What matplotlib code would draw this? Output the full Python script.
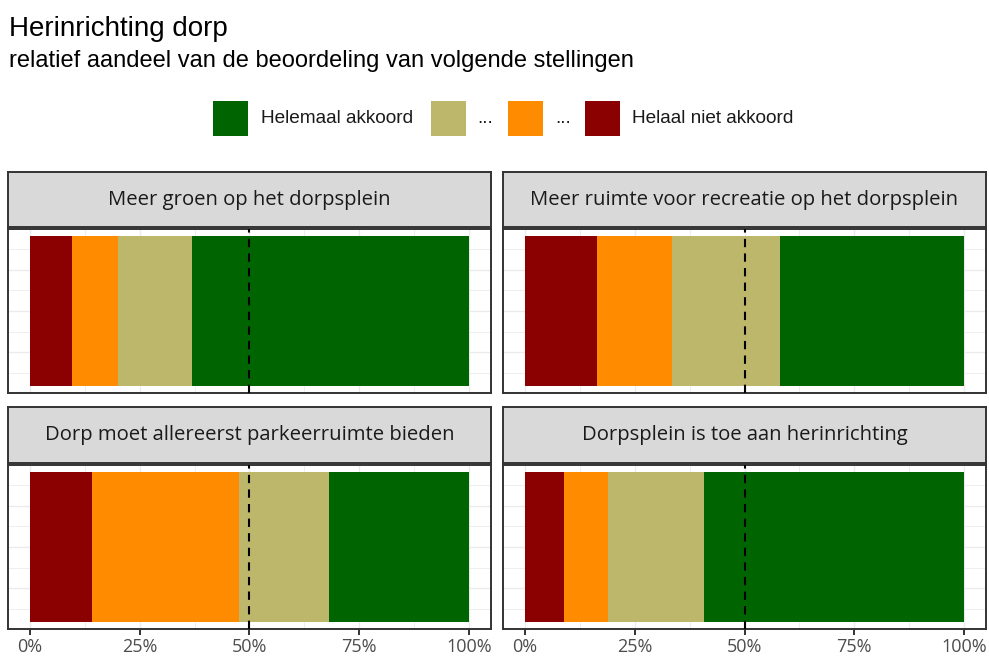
import matplotlib
matplotlib.use("Agg")
import matplotlib.pyplot as plt
from matplotlib.patches import Rectangle
import numpy as np

# ---- data ----
statements = ["Meer groen op het dorpsplein",
              "Meer ruimte voor recreatie op het dorpsplein",
              "Dorp moet allereerst parkeerruimte bieden",
              "Dorpsplein is toe aan herinrichting"]
levels = ["Helaal niet akkoord", "...", "... ", "Helemaal akkoord"]
level_colors = ["#8B0000", "#FF8C00", "#BDB76B", "#006400"]
# shares (%) per statement, in order of levels
niet_akkoord = [9.5, 16.4, 14.2, 8.8]
oranje = [10.6, 17.1, 33.4, 10.0]
kaki = [16.9, 24.6, 20.6, 22.0]
akkoord = [63.0, 41.9, 31.8, 59.2]
xticks = [0, 25, 50, 75, 100]
xticklabels = ["0%", "25%", "50%", "75%", "100%"]

title = "Herinrichting dorp"
subtitle = "relatief aandeel van de beoordeling van volgende stellingen"
legend_labels = ["Helemaal akkoord", "...", "...", "Helaal niet akkoord"]
legend_colors = ["#006400", "#BDB76B", "#FF8C00", "#8B0000"]

W, H = 989, 657
fig = plt.figure(figsize=(W / 100, H / 100), dpi=100)
fig.patch.set_facecolor("white")


def ax_px(x0, y0, x1, y1, **kw):
    return fig.add_axes([x0 / W, 1 - y1 / H, (x1 - x0) / W, (y1 - y0) / H], **kw)


border_col = "#333333"
series = [niet_akkoord, oranje, kaki, akkoord]

panels = [
    ((8, 229, 491, 393), (8, 172, 491, 227), False),
    ((503, 229, 986, 393), (503, 172, 986, 227), False),
    ((8, 465, 491, 629), (8, 407, 491, 463), True),
    ((503, 465, 986, 629), (503, 407, 986, 463), True),
]

for i, (pbox, sbox, bottom) in enumerate(panels):
    ax = ax_px(*pbox)
    ax.set_xlim(-5, 105)
    ax.set_ylim(-3.96, 3.96)
    ax.set_axisbelow(True)
    # grid
    for gx in np.arange(0, 101, 12.5):
        ax.axvline(gx, color="#EBEBEB", lw=1.0 if gx % 25 == 0 else 0.6, zorder=0)
    for gy in range(-3, 4):
        ax.axhline(gy, color="#EBEBEB", lw=1.0 if gy % 2 == 0 else 0.6, zorder=0)
    left = 0.0
    for j, s in enumerate(series):
        ax.barh(0, s[i], left=left, height=7.2, color=level_colors[j],
                edgecolor="none", zorder=2)
        left += s[i]
    ax.axvline(50, color="black", lw=1.5, ls=(0, (4, 3)), zorder=3)
    ax.set_yticks([])
    ax.set_xticks(xticks)
    if bottom:
        ax.set_xticklabels(xticklabels, fontsize=13, color="#4D4D4D",
                           family=["Open Sans", "DejaVu Sans"])
        ax.tick_params(axis="x", length=4.5, width=1.4, color=border_col, pad=2)
    else:
        ax.set_xticklabels([])
        ax.tick_params(axis="x", length=0)
    for sp in ax.spines.values():
        sp.set_color(border_col)
        sp.set_linewidth(1.4)
    # strip
    sax = ax_px(*sbox)
    sax.set_facecolor("#D9D9D9")
    sax.set_xticks([])
    sax.set_yticks([])
    for sp in sax.spines.values():
        sp.set_color(border_col)
        sp.set_linewidth(1.4)
    sax.text(0.5, 0.5, statements[i], ha="center", va="center", fontsize=14.6,
             color="#1A1A1A", family=["Open Sans", "DejaVu Sans"],
             transform=sax.transAxes)

# titles
fig.text(9 / W, 1 - 36 / H, title, ha="left", va="baseline", fontsize=20,
         family=["Liberation Sans", "DejaVu Sans"], color="black")
fig.text(9 / W, 1 - 67 / H, subtitle, ha="left", va="baseline", fontsize=17,
         family=["Liberation Sans", "DejaVu Sans"], color="black")

# legend
lax = ax_px(0, 0, W, H)
lax.set_xlim(0, W)
lax.set_ylim(H, 0)
lax.axis("off")
lax.patch.set_alpha(0)
box_x = [213, 431, 508, 585]
text_x = [261, 477, 555, 632]
for bx, tx, lab, col in zip(box_x, text_x, legend_labels, legend_colors):
    lax.add_patch(Rectangle((bx, 101), 35, 35, facecolor=col, edgecolor="none"))
    lax.text(tx, 118.5, lab, ha="left", va="center", fontsize=13.7,
             family=["Liberation Sans", "DejaVu Sans"], color="#1A1A1A")

fig.savefig("out.png", dpi=100, facecolor="white")
